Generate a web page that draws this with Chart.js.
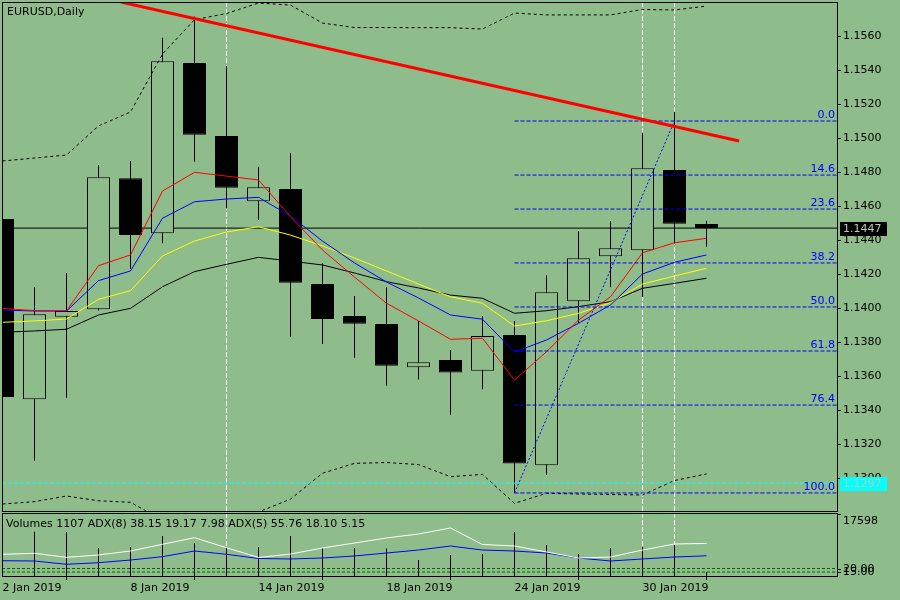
<!DOCTYPE html>
<html><head><meta charset="utf-8">
<script src="https://cdn.jsdelivr.net/npm/chart.js@4.4.1/dist/chart.umd.min.js"></script>
<style>
html,body{margin:0;padding:0;background:#8fbc8b;width:900px;height:600px;overflow:hidden;}
#c1{position:absolute;left:0;top:0;}
#c2{position:absolute;left:0;top:512px;}
</style></head><body>
<canvas id="c1" width="900" height="512"></canvas>
<canvas id="c2" width="900" height="88"></canvas>
<script>
// ---------------- DATA ----------------
const symbolTitle = 'EURUSD,Daily';
const dates = ['2 Jan 2019','3 Jan 2019','4 Jan 2019','7 Jan 2019','8 Jan 2019','9 Jan 2019','10 Jan 2019','11 Jan 2019',
  '14 Jan 2019','15 Jan 2019','16 Jan 2019','17 Jan 2019','18 Jan 2019','21 Jan 2019','22 Jan 2019','23 Jan 2019',
  '24 Jan 2019','25 Jan 2019','28 Jan 2019','29 Jan 2019','30 Jan 2019','31 Jan 2019','1 Feb 2019'];
const open  = [1.14524,1.13463,1.13949,1.13992,1.14763,1.14439,1.15441,1.15012,1.14628,1.14700,1.14141,1.13953,1.13906,1.13651,1.13694,1.13631,1.13841,1.13075,1.14039,1.14304,1.14339,1.14812,1.14494];
const high  = [1.14540,1.14122,1.14206,1.14841,1.14865,1.15590,1.15714,1.15425,1.14831,1.14910,1.14263,1.14071,1.14122,1.13924,1.13753,1.13953,1.13924,1.14192,1.14453,1.14512,1.15031,1.15155,1.14513];
const low   = [1.13460,1.13102,1.13472,1.13985,1.14229,1.14381,1.14861,1.14586,1.14518,1.13831,1.13788,1.13708,1.13543,1.13580,1.13372,1.13522,1.12910,1.13018,1.13910,1.14122,1.14065,1.14380,1.14360];
const close = [1.13476,1.13963,1.13982,1.14769,1.14429,1.15451,1.15019,1.14708,1.14710,1.14149,1.13935,1.13908,1.13661,1.13681,1.13620,1.13835,1.13085,1.14092,1.14292,1.14351,1.14822,1.14496,1.14470];

const maRed    = [1.13997,1.13985,1.13984,1.14249,1.14312,1.14688,1.14798,1.14776,1.14753,1.14537,1.14341,1.14182,1.14028,1.13924,1.13816,1.13822,1.13576,1.13743,1.13929,1.14066,1.14325,1.14384,1.14410];
const maBlue   = [1.13988,1.13982,1.13982,1.14161,1.14218,1.14528,1.14625,1.14641,1.14651,1.14541,1.14394,1.14265,1.14153,1.14059,1.13959,1.13934,1.13741,1.13812,1.13910,1.14018,1.14200,1.14269,1.14312];
const maYellow = [1.13916,1.13924,1.13935,1.14051,1.14102,1.14306,1.14394,1.14447,1.14478,1.14429,1.14365,1.14294,1.14218,1.14141,1.14066,1.14028,1.13894,1.13925,1.13969,1.14031,1.14141,1.14188,1.14234];
const maBlack  = [1.13857,1.13865,1.13875,1.13959,1.13998,1.14125,1.14214,1.14257,1.14298,1.14276,1.14253,1.14206,1.14155,1.14118,1.14076,1.14057,1.13969,1.13984,1.14008,1.14037,1.14116,1.14145,1.14175];
const bandUpper = [1.14865,1.14882,1.14900,1.15071,1.15153,1.15494,1.15696,1.15732,1.15794,1.15782,1.15676,1.15650,1.15650,1.15649,1.15649,1.15641,1.15735,1.15724,1.15724,1.15724,1.15756,1.15753,1.15776];
const bandLower = [1.12847,1.12861,1.12894,1.12866,1.12857,1.12753,1.12694,1.12718,1.12800,1.12876,1.13028,1.13086,1.13091,1.13079,1.13008,1.13021,1.12851,1.12910,1.12906,1.12903,1.12900,1.12985,1.13024];

const volumes = [10000,12570,12490,7950,8230,11350,9370,7950,8230,11350,7950,7950,7800,4540,5960,6240,12490,8800,6240,7950,8230,8800,1107];
const adx5 = [40.3,41.7,36.0,39.3,45.0,54.6,64.0,49.7,35.7,40.7,49.3,56.4,63.6,69.3,77.9,54.3,52.1,43.6,35.0,36.4,46.4,55.0,55.76];
const adx8 = [31.1,30.7,26.0,28.3,32.1,36.9,45.0,40.3,34.3,33.6,35.0,37.9,42.1,46.4,52.1,46.4,45.0,42.1,35.0,30.7,33.6,36.4,38.15];
const adx8Readout = [38.15,19.17,7.98];
const adx5Readout = [55.76,18.10,5.15];
const adxLevels = [20, 15];
const volTopLabel = 17598;

const priceTicks = [1.1300,1.1320,1.1340,1.1360,1.1380,1.1400,1.1420,1.1440,1.1460,1.1480,1.1500,1.1520,1.1540,1.1560];
const xTickIdx = [0,4,8,12,16,20];

const fibLevels = ['0.0','14.6','23.6','38.2','50.0','61.8','76.4','100.0'];
const fibPrices = [1.15100,1.14782,1.14582,1.14265,1.14006,1.13747,1.13429,1.12912];
const fibFromIdx = 16, fibToIdx = 21;
const trendStart = {x:3.70, y:1.15800};
const trendEnd   = {x:23.02, y:1.14982};
const bidPrice = 1.1447;
const alertPrice = 1.1297;
const vLineIdx = [7,20,21];

// ---------------- SETUP ----------------
const BG = '#8fbc8b';
const FONT = "'DejaVu Sans', sans-serif";
Chart.defaults.font.family = FONT;
Chart.defaults.font.size = 11;
Chart.defaults.color = '#000';
const N = dates.length;
const idx = dates.map((_, i) => i);
const xMin = -0.015625, xMax = 26.078;
const yMin = 1.128059, yMax = 1.158;
const volMax = 17882;
const adxMin = 9.286, adxMax = 99.286;

const pts = arr => arr.map((v, i) => ({x: i, y: v}));
const hline = (x0, x1, p) => [{x: x0, y: p}, {x: x1, y: p}];
const lineDs = (data, color, extra) => Object.assign({type: 'line', data, borderColor: color, borderWidth: 1,
  pointRadius: 0, tension: 0, clip: 0, fill: false}, extra || {});

const framePlugin = {id: 'frame', afterDraw(c) {
  const a = c.chartArea, ctx = c.ctx;
  ctx.save(); ctx.strokeStyle = '#000'; ctx.lineWidth = 1;
  ctx.strokeRect(a.left + 0.5, a.top + 0.5, a.right - a.left, a.bottom - a.top);
  ctx.restore();
}};
const vLinesPlugin = {id: 'vlines', beforeDatasetsDraw(c) {
  const a = c.chartArea, ctx = c.ctx, xs = c.scales.x;
  ctx.save(); ctx.strokeStyle = '#ffffff'; ctx.lineWidth = 1; ctx.setLineDash([5, 2]);
  vLineIdx.forEach(i => {
    const x = Math.floor(xs.getPixelForValue(i)) + 0.5;
    ctx.beginPath(); ctx.moveTo(x, a.top); ctx.lineTo(x, a.bottom); ctx.stroke();
  });
  ctx.restore();
}};
const mainText = {id: 'mainText', afterDraw(c) {
  const ctx = c.ctx, ys = c.scales.y, a = c.chartArea;
  ctx.save();
  ctx.font = '11px ' + FONT; ctx.fillStyle = '#000'; ctx.textAlign = 'left'; ctx.textBaseline = 'middle';
  ctx.fillText(symbolTitle, 7, 12);
  ctx.fillStyle = '#0000ff'; ctx.textAlign = 'right'; ctx.textBaseline = 'alphabetic';
  fibLevels.forEach((t, i) => ctx.fillText(t, a.right - 2, ys.getPixelForValue(fibPrices[i]) - 3));
  // price boxes
  const box = (p, bg) => {
    const y = ys.getPixelForValue(p);
    ctx.fillStyle = bg; ctx.fillRect(840, Math.round(y) - 6, 47, 14);
    ctx.fillStyle = '#b8c8b4'; ctx.textAlign = 'left'; ctx.textBaseline = 'middle';
    ctx.fillText(p.toFixed(4), 843, Math.round(y) + 1);
  };
  box(bidPrice, '#000000');
  box(alertPrice, '#00ffff');
  ctx.restore();
}};

const commonOpts = {responsive: false, animation: false, devicePixelRatio: 1, events: [],
  plugins: {legend: {display: false}, tooltip: {enabled: false}}};

// ---------------- MAIN CHART ----------------
const mainDatasets = [
  lineDs(hline(xMin, xMax, bidPrice), '#000', {order: 30}),
  {type: 'bar', data: idx.map(i => ({x: i, y: [low[i], high[i]]})), backgroundColor: '#000', borderWidth: 0,
    barThickness: 1, grouped: false, inflateAmount: 0, clip: 0, order: 20},
  {type: 'bar', data: idx.map(i => ({x: i, y: [open[i], close[i]]})),
    backgroundColor: ctx => close[ctx.dataIndex] >= open[ctx.dataIndex] ? BG : '#000',
    borderColor: '#000', borderWidth: 1, borderSkipped: false, barThickness: 23, grouped: false,
    inflateAmount: 0, clip: 0, order: 19},
  lineDs(pts(bandUpper), '#000', {borderDash: [3, 3], order: 10}),
  lineDs(pts(bandLower), '#000', {borderDash: [3, 3], order: 10}),
  lineDs(pts(maBlack), '#000000', {order: 9}),
  lineDs(pts(maYellow), '#ffff00', {order: 8}),
  lineDs(pts(maBlue), '#0000ff', {order: 7}),
  lineDs(pts(maRed), '#ff0000', {order: 6}),
  lineDs(hline(xMin, xMax, alertPrice), '#00ffff', {borderDash: [4, 2], order: 5}),
  lineDs([{x: fibFromIdx, y: fibPrices[fibPrices.length - 1]}, {x: fibToIdx, y: fibPrices[0]}], '#0000ff', {borderDash: [2, 2], order: 4}),
  lineDs([trendStart, trendEnd], '#ff0000', {borderWidth: 3, borderCapStyle: 'butt', order: 1})
];
fibPrices.forEach(p => mainDatasets.push(lineDs(hline(fibFromIdx, xMax, p), '#0000ff', {borderDash: [4, 2], order: 3})));

new Chart(document.getElementById('c1'), {
  type: 'line',
  data: {datasets: mainDatasets},
  options: Object.assign({}, commonOpts, {
    layout: {padding: {left: 2, top: 2, right: 0, bottom: 1}},
    scales: {
      x: {type: 'linear', min: xMin, max: xMax, display: false, offset: false},
      y: {type: 'linear', position: 'right', min: yMin, max: yMax,
        afterBuildTicks: s => { s.ticks = priceTicks.map(v => ({value: v})); },
        afterFit: s => { s.width = 63; s.paddingTop = 0; s.paddingBottom = 0; },
        ticks: {callback: v => Number(v).toFixed(4), padding: 2, autoSkip: false, color: '#000', font: {size: 11}},
        grid: {drawOnChartArea: false, drawTicks: true, tickLength: 4, color: '#000'},
        border: {display: false}}
    }
  }),
  plugins: [vLinesPlugin, framePlugin, mainText]
});

// ---------------- SUB WINDOW ----------------
const subText = {id: 'subText', afterDraw(c) {
  const ctx = c.ctx, as = c.scales.adx, a = c.chartArea;
  ctx.save();
  ctx.font = '11px ' + FONT; ctx.fillStyle = '#000'; ctx.textAlign = 'left'; ctx.textBaseline = 'middle';
  const txt = 'Volumes ' + volumes[N - 1] + ' ADX(8) ' + adx8Readout.map(v => v.toFixed(2)).join(' ') +
    ' ADX(5) ' + adx5Readout.map(v => v.toFixed(2)).join(' ');
  ctx.fillText(txt, 6, 12);
  ctx.strokeStyle = '#000'; ctx.lineWidth = 1;
  adxLevels.forEach(lv => {
    const y = Math.round(as.getPixelForValue(lv)) + 0.5;
    ctx.beginPath(); ctx.moveTo(a.right, y); ctx.lineTo(a.right + 4, y); ctx.stroke();
    ctx.fillText(lv.toFixed(2), 843, y);
  });
  ctx.restore();
}};

new Chart(document.getElementById('c2'), {
  type: 'line',
  data: {datasets: [
    {type: 'bar', yAxisID: 'vol', data: idx.map(i => ({x: i, y: volumes[i]})), backgroundColor: '#000', borderWidth: 0,
      barThickness: 1, grouped: false, inflateAmount: 0, clip: 0, order: 10},
    lineDs(hline(xMin, xMax, adxLevels[0]), '#006400', {yAxisID: 'adx', borderDash: [3, 2], order: 5}),
    lineDs(hline(xMin, xMax, adxLevels[1]), '#006400', {yAxisID: 'adx', borderDash: [3, 2], order: 5}),
    lineDs(pts(adx8), '#0000ff', {yAxisID: 'adx', order: 2}),
    lineDs(pts(adx5), '#ffffff', {yAxisID: 'adx', order: 1})
  ]},
  options: Object.assign({}, commonOpts, {
    layout: {padding: {left: 2, top: 1, right: 0, bottom: 0}},
    scales: {
      x: {type: 'linear', position: 'bottom', min: xMin, max: xMax, offset: false,
        afterBuildTicks: s => { s.ticks = xTickIdx.map(v => ({value: v})); },
        afterFit: s => { s.height = 24; s.paddingLeft = 0; s.paddingRight = 0; },
        ticks: {callback: v => dates[v], align: 'start', padding: 2, maxRotation: 0, minRotation: 0, autoSkip: false, color: '#000'},
        grid: {drawOnChartArea: false, drawTicks: true, tickLength: 4, color: '#000'},
        border: {display: false}},
      vol: {type: 'linear', position: 'right', min: 0, max: volMax,
        afterBuildTicks: s => { s.ticks = [{value: volTopLabel}]; },
        afterFit: s => { s.width = 63; s.paddingTop = 0; s.paddingBottom = 0; },
        ticks: {callback: v => String(v), labelOffset: 7, padding: 2, autoSkip: false, color: '#000'},
        grid: {drawOnChartArea: false, drawTicks: true, tickLength: 4, color: '#000'},
        border: {display: false}},
      adx: {type: 'linear', display: false, min: adxMin, max: adxMax}
    }
  }),
  plugins: [vLinesPlugin, framePlugin, subText]
});
</script>
</body></html>
